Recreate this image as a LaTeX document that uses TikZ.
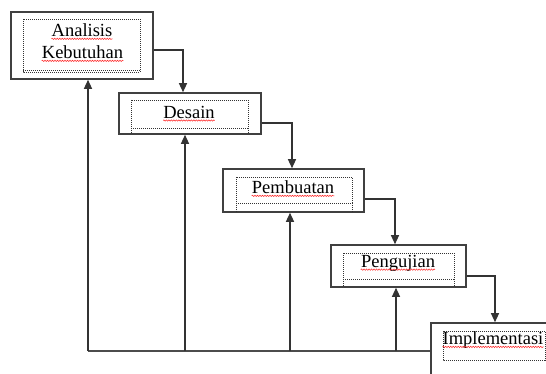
\documentclass[tikz,border=0pt]{standalone}
\usepackage{fontspec}
\setmainfont{Liberation Serif}
\usetikzlibrary{arrows.meta,decorations.pathmorphing}
\begin{document}
\begin{tikzpicture}[x=1pt,y=-1pt,
  outerbox/.style={draw=black!75,line width=1.6pt,minimum width=#1,inner sep=0pt},
  lbl/.style={inner sep=0pt,font=\fontsize{18.5}{22}\selectfont},
  dotbox/.style={draw=black!80,line width=0.9pt,dash pattern=on 1pt off 1pt},
  conn/.style={draw=black!80,line width=1.3pt,-{Triangle[length=9pt,width=8pt]}},
  fbline/.style={draw=black!70,line width=1.3pt},
  squig/.style={draw=red!85,line width=0.5pt,decorate,decoration={snake,amplitude=0.7pt,segment length=2.5pt}}]
\clip (0,0) rectangle (546,374);
\fill[white] (0,0) rectangle (546,374);
% outer boxes
\node[outerbox=142pt,minimum height=67pt] (b1) at (82,45.5) {};
\node[outerbox=142pt,minimum height=41pt] (b2) at (190,113.5) {};
\node[outerbox=141pt,minimum height=43pt] (b3) at (293.5,190.5) {};
\node[outerbox=135pt,minimum height=42pt] (b4) at (398.5,266) {};
\node[outerbox=150pt,minimum height=70pt] (b5) at (506,358) {};
% inner dotted boxes
\draw[dotbox] (23,19) rectangle (140,72);
\draw[dotbox] (23,70) -- (140,70);
\draw[dotbox] (131,100) rectangle (248,128);
\draw[dotbox] (131,128) -- (131,134) (248,128) -- (248,134);
\draw[dotbox] (236,177) rectangle (352,203);
\draw[dotbox] (236,203) -- (236,212) (352,203) -- (352,212);
\draw[dotbox] (343,253) rectangle (454,279);
\draw[dotbox] (343,279) -- (343,287) (454,279) -- (454,287);
\draw[dotbox] (443,331) rectangle (545,360);
% labels
\node[lbl] (t1a) at (82,30) {Analisis};
\node[lbl] (t1b) at (82.5,52) {Kebutuhan};
\node[lbl] (t2) at (189,112) {Desain};
\node[lbl] (t3) at (293,187) {Pembuatan};
\node[lbl] (t4) at (398,263) {Pengujian};
\node[lbl] (t5) at (493,340) {Implementasi};
\foreach \t in {t1a,t1b,t2,t3,t4,t5}{
  \draw[squig] ([yshift=-2.5pt]\t.base west) -- ([yshift=-2.5pt]\t.base east);
}
% forward connectors
\draw[conn] ([yshift=-4.5pt]b1.east) -| ([xshift=-7pt]b2.north);
\draw[conn] ([yshift=-9.5pt]b2.east) -| ([xshift=-1.5pt]b3.north);
\draw[conn] ([yshift=-8.5pt]b3.east) -| ([xshift=-3.5pt]b4.north);
\draw[conn] ([yshift=-10pt]b4.east) -| ([xshift=-11pt]b5.north);
% feedback
\coordinate (f1) at (88,351);
\coordinate (f2) at (185,351);
\coordinate (f3) at (290,351);
\coordinate (f4) at (396,351);
\draw[fbline] (b5.west |- f1) -- (f1);
\draw[conn] (f1) -- (f1 |- b1.south);
\draw[conn] (f2) -- (f2 |- b2.south);
\draw[conn] (f3) -- (f3 |- b3.south);
\draw[conn] (f4) -- (f4 |- b4.south);
\end{tikzpicture}
\end{document}
